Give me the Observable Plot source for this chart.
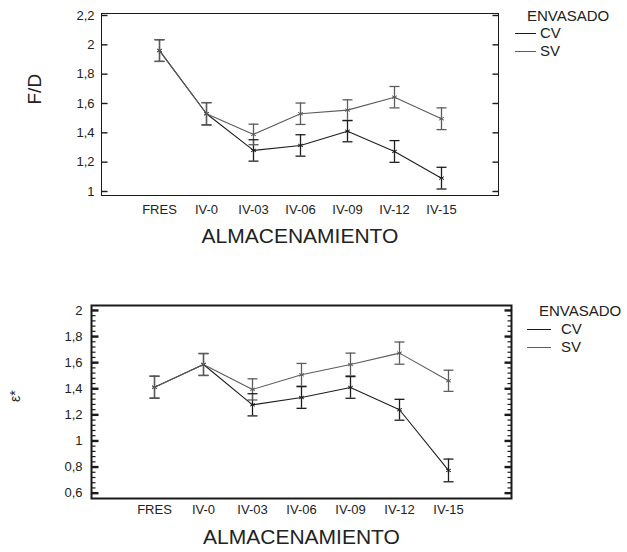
<!DOCTYPE html>
<html><head><meta charset="utf-8">
<script src="https://cdn.jsdelivr.net/npm/d3@7"></script>
<script src="https://cdn.jsdelivr.net/npm/@observablehq/plot@0.6"></script>
<style>
body{margin:0;background:#fff;font-family:"Liberation Sans",Arial,sans-serif;}
#wrap{position:relative;width:627px;height:552px;overflow:hidden;background:#fff}
.panel{position:absolute;left:0}
.lg{position:absolute;font-size:15px;color:#222;line-height:15px;white-space:nowrap}
.sw{position:absolute;height:0;border-top:1px solid #333}
</style></head>
<body><div id="wrap"></div>
<script>
// ---- data ----
const categories = ["FRES","IV-0","IV-03","IV-06","IV-09","IV-12","IV-15"];
const seriesNames = ["CV","SV"];
const seriesColors = ["#1e1e1e","#5c5c5c"];
// F/D panel
const fdCV    = [1.961, 1.530, 1.280, 1.314, 1.411, 1.273, 1.091];
const fdSV    = [1.961, 1.530, 1.389, 1.530, 1.555, 1.643, 1.496];
const fdErrCV = [0.074, 0.076, 0.073, 0.073, 0.072, 0.074, 0.074];
const fdErrSV = [0.074, 0.076, 0.070, 0.073, 0.070, 0.073, 0.074];
const fdTicks = [1, 1.2, 1.4, 1.6, 1.8, 2, 2.2];
// epsilon* panel
const eCV     = [1.412, 1.586, 1.277, 1.333, 1.410, 1.239, 0.774];
const eSV     = [1.412, 1.586, 1.395, 1.507, 1.586, 1.673, 1.461];
const eErrCV  = [0.084, 0.084, 0.085, 0.083, 0.083, 0.080, 0.087];
const eErrSV  = [0.084, 0.084, 0.081, 0.087, 0.087, 0.085, 0.081];
const eTicks  = [0.6, 0.8, 1, 1.2, 1.4, 1.6, 1.8, 2];
const xTitle = "ALMACENAMIENTO";
const legendTitle = "ENVASADO";

function rowsOf(cv, sv, ecv, esv) {
  const rows = [];
  categories.forEach((c, i) => {
    rows.push({cat: c, series: "CV", value: cv[i], lo: cv[i] - ecv[i], hi: cv[i] + ecv[i]});
    rows.push({cat: c, series: "SV", value: sv[i], lo: sv[i] - esv[i], hi: sv[i] + esv[i]});
  });
  return rows;
}
const fmt = d => String(+d.toFixed(2)).replace(".", ",");
// horizontal line symbols: error-bar caps and inward axis ticks
const hseg = (a, b) => ({draw(ctx) { ctx.moveTo(a, 0); ctx.lineTo(b, 0); }});
const capSymbol = hseg(-5, 5);
const axisInk = "#1a1a1a";

function panel(o) {
  const rows = rowsOf(o.cv, o.sv, o.ecv, o.esv);
  const tickMarks = (vals, len, sw) => [
    Plot.dot(vals, {y: d => d, frameAnchor: "left", symbol: hseg(0, len), r: 3, fill: "none", stroke: axisInk, strokeWidth: sw}),
    Plot.dot(vals, {y: d => d, frameAnchor: "right", symbol: hseg(-len, 0), r: 3, fill: "none", stroke: axisInk, strokeWidth: sw})
  ];
  const marks = [Plot.frame({stroke: axisInk, strokeWidth: o.frameW})];
  if (o.minor) {
    const minorT = d3.range(0, Math.round((o.ticks[o.ticks.length-1] - o.ticks[0]) / 0.04) + 1)
      .map(k => o.ticks[0] + k * 0.04);
    marks.push(...tickMarks(minorT, o.minorLen, 1.2));
  }
  marks.push(
    ...tickMarks(o.ticks, o.major, o.frameW + 0.4),
    Plot.axisY({ticks: o.ticks, tickSize: 0, tickPadding: o.yPad, tickFormat: fmt, label: null, fontSize: 13, fill: "#222"}),
    Plot.axisX({tickSize: 0, tickPadding: o.xPad, label: null, fontSize: 13, fill: "#222"}),
    Plot.ruleX(rows, {x: "cat", y1: "lo", y2: "hi", stroke: "series", strokeWidth: 1.3}),
    Plot.dot(rows, {x: "cat", y: "lo", symbol: capSymbol, r: 3, fill: "none", stroke: "series", strokeWidth: 1.3}),
    Plot.dot(rows, {x: "cat", y: "hi", symbol: capSymbol, r: 3, fill: "none", stroke: "series", strokeWidth: 1.3}),
    Plot.line(rows, {x: "cat", y: "value", z: "series", stroke: "series", strokeWidth: 1.1}),
    Plot.dot(rows, {x: "cat", y: "value", symbol: "asterisk", r: 2.6, stroke: "series", strokeWidth: 1}),
    Plot.text([o.yLabel], {frameAnchor: "left", dx: o.yLabelDx, rotate: -90, fontSize: o.yLabelSize, fill: "#222"}),
    Plot.text([xTitle], {frameAnchor: "bottom", dy: o.xTitleDy, fontSize: 21, fill: "#222"})
  );
  const svg = Plot.plot({
    width: o.width, height: o.height,
    marginLeft: o.ml, marginRight: o.mr, marginTop: o.mt, marginBottom: o.mb,
    style: {fontFamily: '"Liberation Sans", Arial, sans-serif', fontSize: "13px", background: "transparent", overflow: "visible"},
    x: {type: "point", domain: categories, padding: 1.22},
    y: {domain: o.yDomain},
    color: {domain: seriesNames, range: seriesColors},
    marks
  });
  svg.classList.add("panel");
  svg.style.top = o.top + "px";
  return svg;
}

const wrap = document.getElementById("wrap");
wrap.appendChild(panel({
  top: 0, width: 627, height: 255, ml: 101, mr: 129, mt: 13, mb: 60,
  cv: fdCV, sv: fdSV, ecv: fdErrCV, esv: fdErrSV,
  ticks: fdTicks, yDomain: [0.9727, 2.2136], minor: false, major: 6, frameW: 1,
  yPad: 7, xPad: 9, yLabel: "F/D", yLabelDx: -67, yLabelSize: 19, xTitleDy: 47
}));
wrap.appendChild(panel({
  top: 290, width: 627, height: 262, ml: 91, mr: 116, mt: 15, mb: 54,
  cv: eCV, sv: eSV, ecv: eErrCV, esv: eErrSV,
  ticks: eTicks, yDomain: [0.559, 2.038], minor: true, major: 7, minorLen: 4, frameW: 2,
  yPad: 9, xPad: 6, yLabel: "ε*", yLabelDx: -76, yLabelSize: 14, xTitleDy: 45
}));

function legend(x0, yTitle, lineX1, lineX2, textX, yRows) {
  const t = document.createElement("div");
  t.className = "lg"; t.textContent = legendTitle;
  t.style.left = x0 + "px"; t.style.top = (yTitle - 8) + "px";
  wrap.appendChild(t);
  seriesNames.forEach((s, i) => {
    const sw = document.createElement("div");
    sw.className = "sw";
    sw.style.left = lineX1 + "px"; sw.style.width = (lineX2 - lineX1) + "px";
    sw.style.top = yRows[i] + "px"; sw.style.borderTopColor = seriesColors[i];
    wrap.appendChild(sw);
    const l = document.createElement("div");
    l.className = "lg"; l.textContent = s;
    l.style.left = textX + "px"; l.style.top = (yRows[i] - 8) + "px";
    wrap.appendChild(l);
  });
}
legend(527, 16, 515, 536, 540, [33, 51]);
legend(539, 311, 527, 551, 561, [329, 347]);
</script>
</body></html>
